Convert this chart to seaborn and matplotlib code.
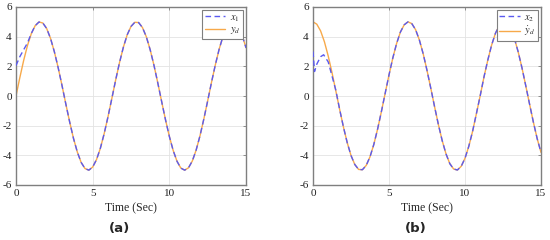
import matplotlib
matplotlib.use("Agg")
from matplotlib import pyplot as plt
import seaborn as sns

# time grid (sec)
time = [i * 0.25 for i in range(61)]

# (a) reference y_d and state x1
y_d = [0.00, 1.24, 2.40, 3.41, 4.21, 4.74, 4.99, 4.92, 4.55, 3.89,
       2.99, 1.91, 0.71, -0.54, -1.75, -2.86, -3.78, -4.48, -4.89, -5.00,
       -4.79, -4.29, -3.53, -2.54, -1.40, -0.17, 1.08, 2.25, 3.28, 4.12,
       4.69, 4.97, 4.95, 4.61, 3.99, 3.12, 2.06, 0.87, -0.38, -1.60,
       -2.72, -3.67, -4.40, -4.86, -5.00, -4.84, -4.38, -3.64, -2.68, -1.55,
       -0.33, 0.92, 2.10, 3.16, 4.02, 4.63, 4.95, 4.97, 4.67, 4.09,
       3.25]
x1 = [2.05, 2.65, 3.12, 3.58, 4.22, 4.74, 4.99, 4.92, 4.55, 3.89,
      2.99, 1.91, 0.71, -0.54, -1.75, -2.86, -3.78, -4.48, -4.89, -5.00,
      -4.79, -4.29, -3.53, -2.54, -1.40, -0.17, 1.08, 2.25, 3.28, 4.12,
      4.69, 4.97, 4.95, 4.61, 3.99, 3.12, 2.06, 0.87, -0.38, -1.60,
      -2.72, -3.67, -4.40, -4.86, -5.00, -4.84, -4.38, -3.64, -2.68, -1.55,
      -0.33, 0.92, 2.10, 3.16, 4.02, 4.63, 4.95, 4.97, 4.67, 4.09,
      3.25]

# (b) reference derivative and state x2
yd_dot = [5.00, 4.84, 4.39, 3.66, 2.70, 1.58, 0.35, -0.89, -2.08, -3.14,
          -4.01, -4.62, -4.95, -4.97, -4.68, -4.10, -3.27, -2.23, -1.05, 0.19,
          1.42, 2.56, 3.54, 4.31, 4.80, 5.00, 4.88, 4.47, 3.77, 2.84,
          1.73, 0.52, -0.73, -1.93, -3.01, -3.90, -4.56, -4.92, -4.99, -4.74,
          -4.20, -3.39, -2.38, -1.19, 0.02, 1.29, 2.42, 3.43, 4.22, 4.75,
          4.99, 4.92, 4.54, 3.88, 2.97, 1.89, 0.68, -0.56, -1.77, -2.88,
          -3.80]
time_x2 = [0.0, 0.1, 0.25, 0.5, 0.7, 1.0, 1.25, 1.5] + time[7:]
x2 = [3.00, 1.65, 2.15, 2.65, 2.78, 2.30, 1.35, 0.40] + yd_dot[7:]

blue = "#5a5af0"
orange = "#f7a94a"
spine_col = "#7f7f7f"

sns.set_style("white")
plt.rcParams["font.family"] = ["Liberation Serif", "DejaVu Serif"]
plt.rcParams["mathtext.fontset"] = "stix"
plt.rcParams["axes.unicode_minus"] = False

fig = plt.figure(figsize=(5.5, 2.4), dpi=100)
ax_a = fig.add_axes([16 / 550, 1 - 185 / 240, 230 / 550, 178 / 240])
ax_b = fig.add_axes([313 / 550, 1 - 185 / 240, 228 / 550, 178 / 240])

panels = [
    (ax_a, time, x1, r"$x_1$", time, y_d, r"$y_d$", "(a)"),
    (ax_b, time_x2, x2, r"$x_2$", time, yd_dot, r"$\dot{y}_d$", "(b)"),
]

for ax, tx, xs, xlab, tr, ref, rlab, tag in panels:
    sns.lineplot(x=tr, y=ref, ax=ax, color=orange, lw=1.0, label=rlab, zorder=2)
    sns.lineplot(x=tx, y=xs, ax=ax, color=blue, lw=1.0, ls=(0, (4, 2.5)),
                 label=xlab, zorder=3)
    ax.set_xlim(0, 15)
    ax.set_ylim(-6, 6)
    ax.set_xticks([0, 5, 10, 15])
    ax.set_yticks([-6, -4, -2, 0, 2, 4, 6])
    ax.grid(True, color="#e3e3e3", lw=0.6)
    ax.tick_params(direction="in", length=2.5, width=0.6, colors=spine_col,
                   labelcolor="#222222", labelsize=8, top=True, right=True, pad=3)
    for s in ax.spines.values():
        s.set_color(spine_col)
        s.set_linewidth(1.0)
    ax.set_xlabel("Time (Sec)", fontsize=8.5, labelpad=3)
    ax.set_ylabel("")
    h, l = ax.get_legend_handles_labels()
    leg = ax.legend(h[::-1], l[::-1], loc="upper right", fontsize=7.5,
                    frameon=True, fancybox=False, edgecolor=spine_col,
                    framealpha=1, borderaxespad=0.3, handlelength=2.0,
                    borderpad=0.25, labelspacing=0.15, handletextpad=0.4)
    leg.get_frame().set_linewidth(0.8)
    ax.text(0.45, -0.245, tag, transform=ax.transAxes, ha="center", va="center",
            fontsize=9.5, fontweight="bold", family=["DejaVu Sans"])

fig.savefig("out.png", dpi=100)
